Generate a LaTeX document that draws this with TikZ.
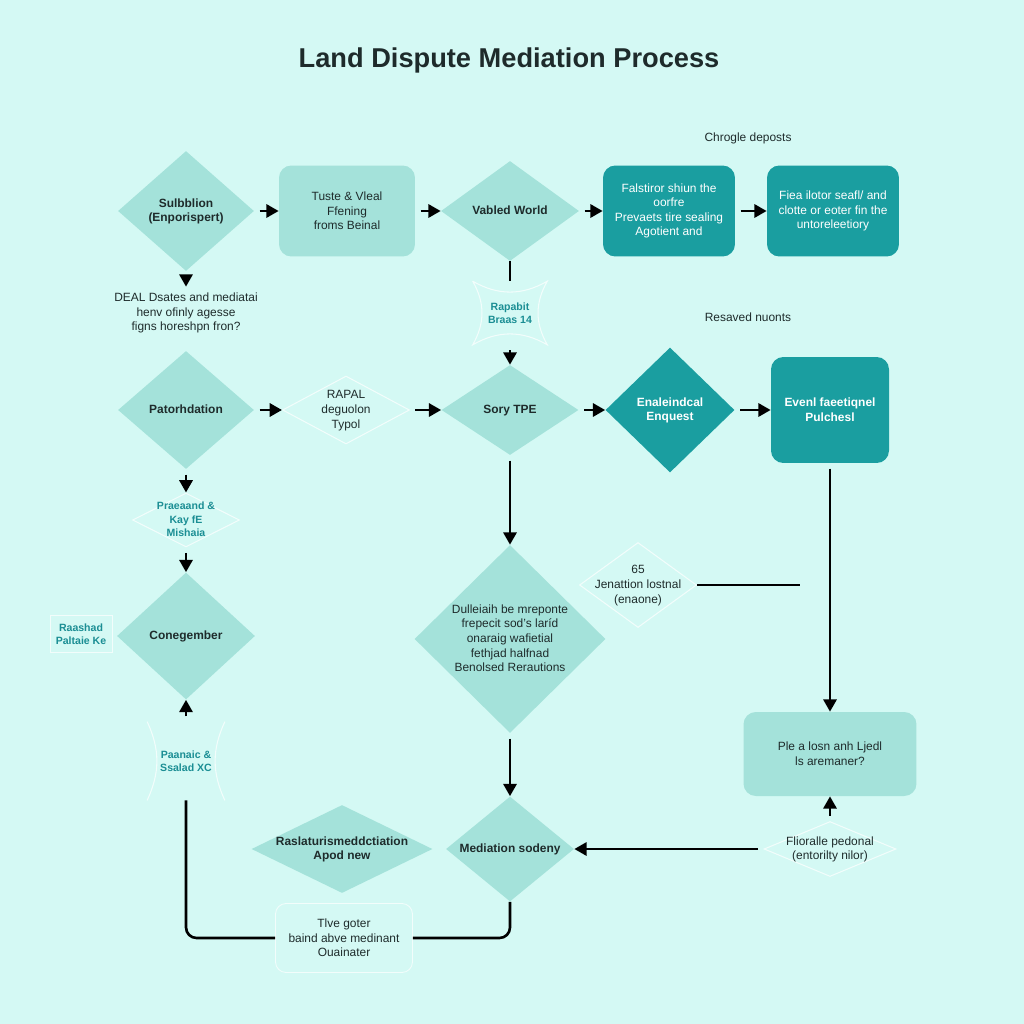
\documentclass[tikz,border=0pt]{standalone}
\usepackage{fontspec}
\setmainfont{Liberation Sans}
\usepackage{tikz}
\usetikzlibrary{arrows.meta,shapes.geometric}
\definecolor{bgmint}{HTML}{D4F9F4}
\definecolor{lightteal}{HTML}{A4E2DA}
\definecolor{darkteal}{HTML}{1A9EA0}
\definecolor{inkdark}{HTML}{1E2B2B}
\definecolor{inkteal}{HTML}{1B8E94}
\newcommand{\dlabel}[1]{\makebox[0pt]{\smash{\raisebox{-0.3em}{\begin{tabular}{@{}c@{}}#1\end{tabular}}}}}
\tikzset{
    lightdia/.style={
           diamond,
           fill=lightteal,
           inner sep=0pt,
           text=inkdark,
           font=\fontsize{6.8}{8.3}\selectfont\bfseries,
           },
}
\tikzset{
    darkdia/.style={
           diamond,
           fill=darkteal,
           inner sep=0pt,
           text=white,
           font=\fontsize{6.8}{8.3}\selectfont\bfseries,
           },
}
\tikzset{
    lightbox/.style={
           rectangle, rounded corners=7pt,
           fill=lightteal,
           inner sep=2pt,
           text=inkdark, align=center,
           font=\fontsize{6.8}{8.3}\selectfont,
           },
}
\tikzset{
    darkbox/.style={
           rectangle, rounded corners=7pt,
           fill=darkteal,
           inner sep=2pt,
           text=white, align=center,
           font=\fontsize{6.8}{8.3}\selectfont,
           },
}
\tikzset{
    ghostdia/.style={
           diamond,
           draw=white, draw opacity=0.7, line width=0.6pt,
           inner sep=0pt,
           text=inkdark,
           font=\fontsize{6.8}{8.3}\selectfont,
           },
}
\tikzset{
    ghostbox/.style={
           rectangle,
           inner sep=1pt,
           text=inkteal, align=center,
           font=\fontsize{6}{7.5}\selectfont\bfseries,
           },
}
\tikzset{
    ghostline/.style={
           draw=white, draw opacity=0.7, line width=0.6pt,
           },
}
\tikzset{
    note/.style={
           text=inkdark, align=center,
           font=\fontsize{6.8}{8.3}\selectfont,
           },
}
\tikzset{
    arrow/.style={
           draw=black, line width=1.5pt,
           -{Triangle[length=7pt,width=7.5pt]},
           shorten <=3pt,
           },
}
\tikzset{
    link/.style={
           draw=black, line width=1.5pt,
           },
}
\begin{document}
\begin{tikzpicture}[x=0.02cm,y=-0.02cm]
\fill[bgmint] (0,0) rectangle (1024,1024);
\useasboundingbox (0,0) rectangle (1024,1024);
\node[text=inkdark,font=\fontsize{15.5}{18}\selectfont\bfseries] (title) at (509,60) {Land Dispute Mediation Process};

\node[lightdia,minimum width=2.72cm,minimum height=2.40cm] (d1) at (186,211) {\dlabel{Sulbblion\\(Enporispert)}};
\node[lightbox,minimum width=2.72cm,minimum height=1.82cm] (b1) at (347,211) {Tuste \& Vleal\\Ffening\\froms Beinal};
\node[lightdia,minimum width=2.76cm,minimum height=2.00cm] (d2) at (510,211) {\dlabel{Vabled World}};
\node[darkbox,minimum width=2.64cm,minimum height=1.82cm] (b2) at (669,211) {Falstiror shiun the\\oorfre\\Prevaets tire sealing\\Agotient and};
\node[darkbox,minimum width=2.64cm,minimum height=1.82cm] (b3) at (833,211) {Fiea ilotor seafl/ and\\clotte or eoter fin the\\untoreleetiory};
\node[note] (chrogle) at (748,138) {Chrogle deposts};

\node[note] (deal) at (186,313) {DEAL Dsates and mediatai\\henv ofinly agesse\\figns horeshpn fron?};
\node[ghostbox,minimum width=1.48cm,minimum height=1.26cm] (s1) at (510,313) {Rapabit\\Braas 14};
\draw[ghostline] (s1.north west) to[bend right=30] (s1.north east) to[bend right=30] (s1.south east) to[bend right=30] (s1.south west) to[bend right=30] (s1.north west);
\node[note] (resaved) at (748,317) {Resaved nuonts};

\node[lightdia,minimum width=2.72cm,minimum height=2.36cm] (d3) at (186,410) {\dlabel{Patorhdation}};
\node[ghostdia,minimum width=2.54cm,minimum height=1.36cm] (d4) at (346,410) {\dlabel{RAPAL\\deguolon\\Typol}};
\node[lightdia,minimum width=2.74cm,minimum height=1.80cm] (d5) at (510,410) {\dlabel{Sory TPE}};
\node[darkdia,minimum width=2.58cm,minimum height=2.50cm] (d6) at (670,410) {\dlabel{Enaleindcal\\Enquest}};
\node[darkbox,font=\fontsize{6.8}{8.3}\selectfont\bfseries,minimum width=2.36cm,minimum height=2.12cm] (b4) at (830,410) {Evenl faeetiqnel\\Pulchesl};

\node[ghostdia,text=inkteal,font=\fontsize{6}{7.5}\selectfont\bfseries,minimum width=2.14cm,minimum height=1.08cm] (f1) at (186,520) {\dlabel{Praeaand \&\\Kay fE\\Mishaia}};
\node[lightdia,minimum width=2.76cm,minimum height=2.54cm] (d7) at (186,636) {\dlabel{Conegember}};
\node[ghostbox,draw=white,draw opacity=0.7,line width=0.5pt,minimum width=1.24cm,minimum height=0.74cm] (f2) at (81,634) {Raashad\\Paltaie Ke};
\node[ghostbox,minimum width=1.54cm,minimum height=1.56cm] (f3) at (186,761) {Paanaic \&\\Ssalad XC};
\draw[ghostline] (f3.north west) to[bend left=25] (f3.south west);
\draw[ghostline] (f3.north east) to[bend right=25] (f3.south east);

\node[lightdia,font=\fontsize{6.8}{8.3}\selectfont,minimum width=3.82cm,minimum height=3.76cm] (d8) at (510,639) {\dlabel{Dulleiaih be mreponte\\frepecit sod's laríd\\onaraig wafietial\\fethjad halfnad\\Benolsed Rerautions}};
\node[ghostdia,minimum width=2.34cm,minimum height=1.70cm] (f4) at (638,585) {\dlabel{65\\Jenattion lostnal\\(enaone)}};
\coordinate (c1) at (800,585);
\node[lightbox,minimum width=3.46cm,minimum height=1.68cm] (b5) at (830,754) {Ple a losn anh Ljedl\\ls aremaner?};
\node[ghostdia,minimum width=2.64cm,minimum height=1.10cm] (f5) at (830,849) {\dlabel{Flioralle pedonal\\(entorilty nilor)}};

\node[lightdia,minimum width=3.62cm,minimum height=1.76cm] (d10) at (342,849) {\dlabel{Raslaturismeddctiation\\Apod new}};
\node[lightdia,minimum width=2.56cm,minimum height=2.10cm] (d9) at (510,849) {\dlabel{Mediation sodeny}};
\node[note,draw=white,draw opacity=0.7,line width=0.5pt,rounded corners=6pt,minimum width=2.74cm,minimum height=1.38cm] (f6) at (344,938) {Tlve goter\\baind abve medinant\\Ouainater};

\draw[arrow] (d1) -- (b1);
\draw[arrow] (b1) -- (d2);
\draw[arrow] (d2) -- (b2);
\draw[arrow] (b2) -- (b3);
\draw[arrow] (d1) -- (deal);
\draw[link] (d2) -- (s1);
\draw[arrow] (s1) -- (d5);
\draw[arrow] (d3) -- (d4);
\draw[arrow] (d4) -- (d5);
\draw[arrow] (d5) -- (d6);
\draw[arrow] (d6) -- (b4);
\draw[arrow] (d3) -- (f1);
\draw[arrow] (f1) -- (d7);
\draw[arrow] (d5) -- (d8);
\draw[arrow] (d8) -- (d9);
\draw[arrow] (b4) -- (b5);
\draw[arrow] (f5) -- (b5);
\draw[arrow] (f5) -- (d9);
\draw[link] (f4) -- (c1);
\draw[link,rounded corners=6pt] (d9.south) |- (f6.east);
\draw[link,rounded corners=6pt] (f6.west) -| (f3.south);
\draw[arrow] (f3) -- (d7);
\end{tikzpicture}
\end{document}
